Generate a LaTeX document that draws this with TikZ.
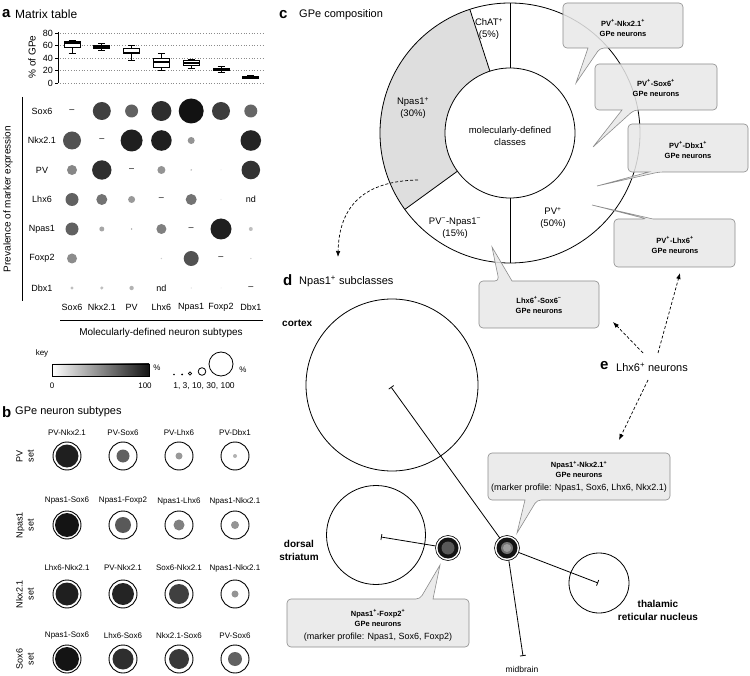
\documentclass[tikz,border=0pt]{standalone}
\usepackage{fontspec}
\setmainfont{Liberation Sans}
\usetikzlibrary{arrows.meta}
\newcommand{\pl}{\textsuperscript{+}}
\newcommand{\mn}{\textsuperscript{−}}
\begin{document}
\begin{tikzpicture}[x=1pt,y=-1pt,
  letter/.style={anchor=west, font=\fontsize{15}{15}\selectfont\bfseries, inner sep=0},
  ttl/.style={anchor=west, font=\fontsize{11}{13}\selectfont, inner sep=0},
  lab/.style={font=\fontsize{9}{11}\selectfont, inner sep=0},
  smalltxt/.style={font=\fontsize{8}{10}\selectfont, inner sep=0},
  seglab/.style={font=\fontsize{9.5}{12}\selectfont, align=center, inner sep=0},
  ctext/.style={font=\fontsize{7.5}{10}\selectfont\bfseries, align=center, inner sep=0},
  ptext/.style={font=\fontsize{9}{10}\selectfont, inner sep=0},
  callout/.style={draw=black!45, fill=black!9, fill opacity=0.85, line width=0.6pt},
  dasharrow/.style={dash pattern=on 3pt off 2pt, line width=0.7pt, -{Latex[length=6pt,width=4.5pt]}},
  tbar/.style={line width=0.8pt, -{Bar[width=6pt,line width=0.8pt]}},
  boldlab/.style={font=\fontsize{10}{13}\selectfont\bfseries, align=center, inner sep=0},
]
\fill[white] (0,0) rectangle (750,676);
\useasboundingbox (0,0) rectangle (750,676);

%================ panel a ================
\node[letter] (La) at (2,14) {a};
\node[ttl, font=\fontsize{12}{14}\selectfont] (Ta) at (15,14) {Matrix table};
\node[lab, rotate=90, font=\fontsize{10}{12}\selectfont] (yax) at (32,57) {\% of GPe};
\draw[line width=0.8pt] (58,32) -- (58,83.3);
\foreach \v in {0,20,40,60,80}{
  \pgfmathsetmacro\yy{83.3-0.625*\v}
  \draw[line width=0.8pt] (55,\yy) -- (58,\yy);
  \draw[black!45, dotted, line width=0.7pt] (60,\yy) -- (263,\yy);
  \node[lab, anchor=east] (tk\v) at (53,\yy) {\v};
}
\foreach \x/\lo/\qa/\me/\qb/\hi in {72/48/57.6/64/66.6/68, 101.8/52/56/58.5/60/63, 131.6/37/47/49/55/60, 161.4/20/25/33.6/40/47, 191.2/24/29/33/35.7/37.5, 221/17/20.5/22.4/24/26.6, 250.8/7/7.8/9.6/11.5/12.5}{
  \pgfmathsetmacro\ylo{83.3-0.625*\lo}
  \pgfmathsetmacro\yqa{83.3-0.625*\qa}
  \pgfmathsetmacro\yme{83.3-0.625*\me}
  \pgfmathsetmacro\yqb{83.3-0.625*\qb}
  \pgfmathsetmacro\yhi{83.3-0.625*\hi}
  \draw[line width=1pt] (\x,\ylo) -- (\x,\yqa) (\x,\yqb) -- (\x,\yhi)
     ({\x-3.5},\ylo) -- ({\x+3.5},\ylo) ({\x-3.5},\yhi) -- ({\x+3.5},\yhi);
  \draw[line width=1pt, fill=white] ({\x-8},\yqa) rectangle ({\x+8},\yqb);
  \draw[line width=2.2pt] ({\x-8},\yme) -- ({\x+8},\yme);
}
% matrix
\draw[line width=1pt] (22,97) -- (22,301);
\node[lab, rotate=90, font=\fontsize{10}{12}\selectfont] (prev) at (8,199) {Prevalence of marker expression};
\foreach \n [count=\i from 0] in {Sox6,Nkx2.1,PV,Lhx6,Npas1,Foxp2,Dbx1}{
  \node[lab] (row\i) at (42,{111+29.5*\i}) {\n};
  \node[lab] (col\i) at ({72+29.8*\i},307) {\n};
  \node[lab] (dash\i) at ({72+29.8*\i},{111+29.5*\i}) {–};
}
\node[lab] (nd1) at ({72+29.8*6},{111+29.5*3}) {nd};
\node[lab] (nd2) at ({72+29.8*3},{111+29.5*6}) {nd};
\foreach \c/\r/\rad/\g in {
  1/0/9/75, 2/0/6.5/62, 3/0/10/82, 4/0/12.5/93, 5/0/9/76, 6/0/6.5/60,
  0/1/9/68, 2/1/11/88, 3/1/10.3/88, 4/1/3.5/42, 6/1/10.3/86,
  0/2/5/47, 1/2/9.7/82, 3/2/4/42, 4/2/0.8/30, 5/2/0.5/12, 6/2/9.3/80,
  0/3/6.5/62, 1/3/5.5/55, 2/3/3.5/40, 4/3/5.5/55, 5/3/0.6/10,
  0/4/6.5/62, 1/4/2.5/35, 2/4/0.8/40, 3/4/5/50, 5/4/10.5/88, 6/4/2/25,
  0/5/5/45, 3/5/0.7/20, 4/5/7.5/68, 6/5/0.7/20,
  0/6/1.7/25, 1/6/1.7/25, 2/6/2.2/30, 4/6/0.6/15, 5/6/0.5/10}{
  \fill[black!\g] ({72+29.8*\c},{111+29.5*\r}) circle[radius=\rad];
}
\draw[line width=0.8pt] (60,320) -- (263,320);
\node[lab, font=\fontsize{10}{12}\selectfont] (mdns) at (161,333) {Molecularly-defined neuron subtypes};
% key
\node[smalltxt] (key) at (42,353) {key};
\shade[left color=white, right color=black!92] (52,364) rectangle (149,376);
\draw[line width=0.7pt] (52,364) rectangle (149,376);
\node[smalltxt] (pc1) at (157,368) {\%};
\node[smalltxt] (k0) at (52,386) {0};
\node[smalltxt] (k100) at (145,386) {100};
\fill (174,374.5) circle[radius=0.8];
\fill (182,374.5) circle[radius=1];
\draw[line width=0.8pt] (190,373.5) circle[radius=1.6];
\draw[line width=0.8pt] (202,371.5) circle[radius=3.8];
\draw[line width=0.8pt] (221,364) circle[radius=12];
\node[smalltxt] (pc2) at (243,370) {\%};
\node[smalltxt, font=\fontsize{8.5}{10}\selectfont] (kvals) at (204,386) {1, 3, 10, 30, 100};

%================ panel b ================
\node[letter] (Lb) at (2,412) {b};
\node[ttl] (Tb) at (15,412) {GPe neuron subtypes};
\node[lab, rotate=90, align=center] (s1) at (25,456) {PV\\set};
\node[lab, rotate=90, align=center] (s2) at (25,525) {Npas1\\set};
\node[lab, rotate=90, align=center] (s3) at (25,594) {Nkx2.1\\set};
\node[lab, rotate=90, align=center] (s4) at (25,659) {Sox6\\set};
\foreach \y/\ly/\lst in {
  456/433/{67/PV-Nkx2.1/11.5/88, 123/PV-Sox6/6.5/62, 179/PV-Lhx6/3.5/40, 235/PV-Dbx1/2/30},
  525/501/{67/Npas1-Sox6/12/92, 123/Npas1-Foxp2/8/65, 179/Npas1-Lhx6/5.5/50, 235/Npas1-Nkx2.1/4/42},
  594/568/{67/Lhx6-Nkx2.1/11.5/88, 123/PV-Nkx2.1/11/86, 179/Sox6-Nkx2.1/10/75, 235/Npas1-Nkx2.1/3.5/42},
  659/636/{67/Npas1-Sox6/12/92, 123/Lhx6-Sox6/10.5/82, 179/Nkx2.1-Sox6/10/78, 235/PV-Sox6/7/62}}{
  \foreach \x/\t/\rr/\g in \lst {
    \node[smalltxt] (bl\x-\y) at (\x,\ly) {\t};
    \draw[line width=0.9pt, fill=white] (\x,\y) circle[radius=14];
    \fill[black!\g] (\x,\y) circle[radius=\rr];
  }
}

%================ panel c ================
\node[letter] (Lc) at (279,15) {c};
\node[ttl] (Tc) at (299,15) {GPe composition};
\fill[black!13] ({510+130*cos(108)},{133-130*sin(108)}) arc[start angle=-108, end angle=-216, radius=130]
   -- ({510+65*cos(216)},{133-65*sin(216)}) arc[start angle=-216, end angle=-108, radius=65] -- cycle;
\draw[line width=0.8pt] (510,133) circle[radius=130];
\draw[line width=0.8pt, fill=white] (510,133) circle[radius=65];
\foreach \a in {90,108,216,270}
  \draw[line width=0.8pt] ({510+65*cos(\a)},{133-65*sin(\a)}) -- ({510+130*cos(\a)},{133-130*sin(\a)});
\node[seglab] (chat) at (489,29) {ChAT\pl\\(5\%)};
\node[seglab] (npas) at (413,108) {Npas1\pl\\(30\%)};
\node[seglab] (mol) at (510,136) {molecularly-defined\\classes};
\node[seglab] (pvnp) at (455,228) {PV\mn-Npas1\mn\\(15\%)};
\node[seglab] (pvp) at (553,218) {PV\pl\\(50\%)};
% callouts
\draw[callout] (563,25) [rounded corners=4pt] -- (563,3) -- (683,3) -- (683,48) -- (600,48) [sharp corners] -- (576,83) -- (588,48) [rounded corners=4pt] -- (563,48) -- cycle;
\node[ctext] (cb1) at (623,28) {PV\pl-Nkx2.1\pl\\GPe neurons};
\draw[callout] (595,87) [rounded corners=4pt] -- (595,64) -- (717,64) -- (717,110) -- (634,110) [sharp corners] -- (593,147) -- (622,110) [rounded corners=4pt] -- (595,110) -- cycle;
\node[ctext] (cb2) at (656,88) {PV\pl-Sox6\pl\\GPe neurons};
\draw[callout] (628,148) [rounded corners=4pt] -- (628,124) -- (748,124) -- (748,172) -- (659,172) [sharp corners] -- (597,186) -- (649,172) [rounded corners=4pt] -- (628,172) -- cycle;
\node[ctext] (cb3) at (688,150) {PV\pl-Dbx1\pl\\GPe neurons};
\draw[callout] (614,243) [rounded corners=4pt] -- (614,219) -- (647,219) [sharp corners] -- (592,205) -- (653,219) [rounded corners=4pt] -- (735,219) -- (735,267) -- (614,267) -- cycle;
\node[ctext] (cb4) at (675,245) {PV\pl-Lhx6\pl\\GPe neurons};
\draw[callout] (479,305) [rounded corners=4pt] -- (479,281) -- (499,281) [sharp corners] -- (492,247) -- (512,281) [rounded corners=4pt] -- (599,281) -- (599,328) -- (479,328) -- cycle;
\node[ctext] (cb5) at (539,305) {Lhx6\pl-Sox6\mn\\GPe neurons};
% arrow c -> d
\coordinate (cA) at (418,180);
\coordinate (dA) at (338,257);
\draw[dasharrow] (cA) .. controls (365,181) and (339,205) .. (dA);

%================ panel d ================
\node[letter] (Ld) at (283,280) {d};
\node[ttl] (Td) at (299,281) {Npas1\pl\ subclasses};
\node[boldlab, anchor=west] (cortex) at (282,323) {cortex};
\draw[line width=0.8pt] (392,385) circle[radius=86];
\draw[line width=0.8pt] (376,535) circle[radius=49.5];
\draw[line width=0.8pt] (599,583) circle[radius=30];
\node[boldlab] (dstr) at (299,550) {dorsal\\striatum};
\node[boldlab] (trn) at (658,610) {thalamic\\reticular nucleus};
\node[ptext, font=\fontsize{8.5}{10}\selectfont] (midb) at (522,669) {midbrain};
\coordinate (nF) at (448,548);
\coordinate (nN) at (507,548);
\coordinate (tCx) at (391,387);
\coordinate (tDs) at (381,537);
\coordinate (tMb) at (523,656);
\coordinate (tTr) at (598,583);
\draw[tbar] (nN) -- (tCx);
\draw[tbar] (nF) -- (tDs);
\draw[tbar] (nN) -- (tMb);
\draw[tbar] (nN) -- (tTr);
\draw[line width=0.6pt, fill=white] (nF) circle[radius=12.5];
\fill[black!92] (nF) circle[radius=10.5];
\fill[black!65] (nF) circle[radius=6.5];
\draw[line width=0.6pt, fill=white] (nN) circle[radius=12.5];
\fill[black!92] (nN) circle[radius=10.5];
\fill[black!55] (nN) circle[radius=6];
\fill[black!38] (nN) circle[radius=4];
% callouts in d
\draw[callout] (488,476) [rounded corners=4pt] -- (488,453) -- (670,453) -- (670,500) -- (537,500) [sharp corners] -- (517,533) -- (525,500) [rounded corners=4pt] -- (488,500) -- cycle;
\node[ctext] (cb6) at (579,469.5) {Npas1\pl-Nkx2.1\pl\\GPe neurons};
\node[ptext] (cb6p) at (579,488) {(marker profile: Npas1, Sox6, Lhx6, Nkx2.1)};
\draw[callout] (287,623) [rounded corners=4pt] -- (287,599) -- (420,599) [sharp corners] -- (440,565) -- (433,599) [rounded corners=4pt] -- (469,599) -- (469,647) -- (287,647) -- cycle;
\node[ctext] (cb7) at (378,618) {Npas1\pl-Foxp2\pl\\GPe neurons};
\node[ptext] (cb7p) at (378,637) {(marker profile: Npas1, Sox6, Foxp2)};

%================ panel e ================
\node[letter] (Le) at (600,366) {e};
\node[ttl] (Te) at (616,367) {Lhx6\pl\ neurons};
\coordinate (e1s) at (643,353);
\coordinate (e1t) at (613,322);
\coordinate (e2s) at (658,353);
\coordinate (e2t) at (680,273);
\coordinate (e3s) at (648,380);
\coordinate (e3t) at (619,440);
\draw[dasharrow] (e1s) -- (e1t);
\draw[dasharrow] (e2s) -- (e2t);
\draw[dasharrow] (e3s) -- (e3t);
\end{tikzpicture}
\end{document}
